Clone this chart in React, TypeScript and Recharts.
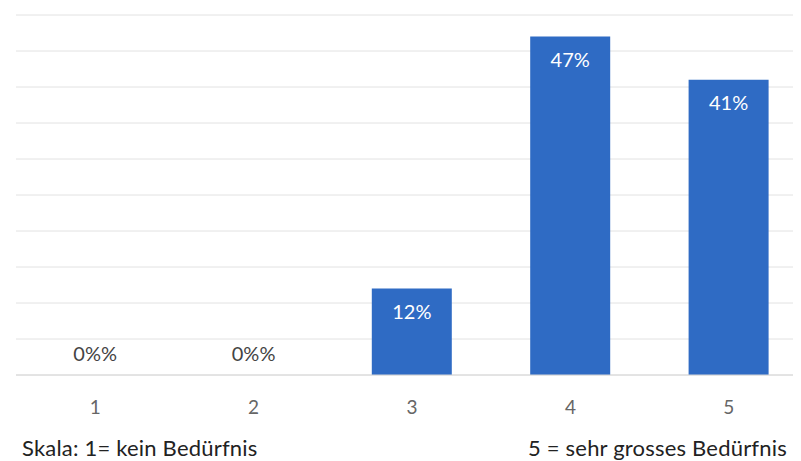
import { Bar, CartesianGrid, ComposedChart, Line, XAxis, YAxis } from "recharts";

// Skala-Werte und Anteile in Prozent
const categories = ["1", "2", "3", "4", "5"];
const shares = [0, 0, 12, 47, 41];
const valueLabels = ["0%%", "0%%", "12%", "47%", "41%"];
const yTicks = [0, 5, 10, 15, 20, 25, 30, 35, 40, 45, 50];
const scaleLeft = "Skala: 1= kein Bedürfnis";
const scaleRight = "5 = sehr grosses Bedürfnis";

const data = categories.map((c, i) => ({
  cat: c,
  share: shares[i],
  label: valueLabels[i],
}));

const FONT = "Lato, 'Open Sans', sans-serif";
const BLUE = "#2f6bc4";

// Beschriftung innerhalb der Balken (nur Werte > 0)
function BarLabel(props: any) {
  const { x, y, width, value } = props;
  if (!value) return null;
  const cx = Number(x) + Number(width) / 2;
  return (
    <text x={cx} y={Number(y) + 30} textAnchor="middle" fill="#fff" fontSize={20} fontFamily={FONT}>
      {value}%
    </text>
  );
}

// Beschriftung für leere Kategorien (Wert 0), über der Grundlinie
function ZeroLabel(props: any) {
  const { x, y, value, index } = props;
  if (value !== 0) return null;
  return (
    <text x={Number(x)} y={Number(y) - 14} textAnchor="middle" fill="#444" fontSize={20} fontFamily={FONT}>
      {valueLabels[index]}
    </text>
  );
}

const noteStyle = {
  position: "absolute" as const,
  top: 437,
  fontSize: 22,
  lineHeight: "22px",
  letterSpacing: 0.2,
  fontFamily: FONT,
  color: "#222",
  whiteSpace: "nowrap" as const,
};

export default function App() {
  return (
    <div
      style={{
        position: "relative",
        margin: "-8px 0 0 -8px",
        width: 801,
        height: 461,
        overflow: "hidden",
        background: "#fff",
      }}
    >
      <ComposedChart
        width={810}
        height={461}
        data={data}
        margin={{ top: 15, right: 2, bottom: 46, left: 16 }}
      >
        <CartesianGrid vertical={false} stroke="#e2e2e2" />
        <YAxis hide domain={[0, 50]} ticks={yTicks} />
        <XAxis
          dataKey="cat"
          height={40}
          tickLine={false}
          axisLine={{ stroke: "#d6d6d6" }}
          tickMargin={20}
          tick={{ fill: "#666", fontSize: 19, fontFamily: FONT }}
        />
        <Bar
          dataKey="share"
          fill={BLUE}
          barSize={80}
          isAnimationActive={false}
          label={BarLabel}
        />
        <Line
          dataKey="share"
          stroke="none"
          dot={false}
          activeDot={false}
          isAnimationActive={false}
          label={ZeroLabel}
        />
      </ComposedChart>
      <div style={{ ...noteStyle, left: 22 }}>{scaleLeft}</div>
      <div style={{ ...noteStyle, left: 528 }}>{scaleRight}</div>
    </div>
  );
}
